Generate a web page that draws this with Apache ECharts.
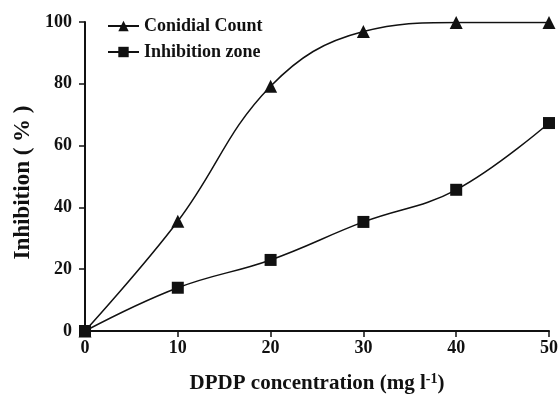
<!DOCTYPE html>
<html>
<head>
<meta charset="utf-8">
<script src="https://cdn.jsdelivr.net/npm/echarts@6/dist/echarts.min.js"></script>
<style>
  html, body { margin: 0; padding: 0; background: #fff; }
  #chart { width: 560px; height: 395px; }
</style>
</head>
<body>
<div id="chart"></div>
<script>
// DPDP concentration (mg l-1) and the two inhibition readings
const concentration = [0, 10, 20, 30, 40, 50];
const conidialCount = [0, 35.5, 79.2, 96.9, 99.8, 99.8];
const inhibitionZone = [0, 14, 23, 35.3, 45.7, 67.3];

const FONT = "'Liberation Serif', 'DejaVu Serif', serif";
const INK = "#111";

const chart = echarts.init(document.getElementById("chart"));

chart.setOption({
  animation: false,
  textStyle: { fontFamily: FONT },
  // fixed plot box; v6 would otherwise shrink it to fit the big labels
  grid: { left: 85, right: 11, top: 22, bottom: 64, containLabel: false, outerBoundsMode: "none" },
  legend: {
    orient: "vertical",
    left: 102,
    top: 12,
    itemWidth: 31,
    itemHeight: 13,
    itemGap: 8,
    textStyle: { fontFamily: FONT, fontWeight: "bold", fontSize: 18, color: INK },
    data: ["Conidial Count", "Inhibition zone"]
  },
  xAxis: {
    type: "value",
    min: 0,
    max: 50,
    interval: 10,
    name: "{a|DPDP concentration (mg l}{s|-1}{a|)}",
    nameLocation: "middle",
    nameGap: 41,
    nameTextStyle: {
      rich: {
        a: { fontFamily: FONT, fontWeight: "bold", fontSize: 21, color: INK },
        s: { fontFamily: FONT, fontWeight: "bold", fontSize: 14, color: INK, verticalAlign: "top", padding: [0, 0, 9, 0] }
      }
    },
    axisLine: { onZero: false, lineStyle: { color: INK, width: 2 } },
    axisTick: { show: true, length: 6, inside: false, lineStyle: { color: INK, width: 1.5 } },
    axisLabel: { fontFamily: FONT, fontWeight: "bold", fontSize: 18, color: INK, margin: 8 },
    splitLine: { show: false }
  },
  yAxis: {
    type: "value",
    min: 0,
    max: 100,
    interval: 20,
    name: "Inhibition ( % )",
    nameLocation: "middle",
    nameGap: 50,
    // right padding nudges the rotated title a little below the plot's centre
    nameTextStyle: { fontFamily: FONT, fontWeight: "bold", fontSize: 23, color: INK, padding: [0, 12, 0, 0] },
    axisLine: { show: true, onZero: false, lineStyle: { color: INK, width: 2 } },
    axisTick: { show: true, length: 6, inside: false, lineStyle: { color: INK, width: 1.5 } },
    axisLabel: { fontFamily: FONT, fontWeight: "bold", fontSize: 18, color: INK, margin: 13 },
    splitLine: { show: false }
  },
  series: [
    {
      name: "Conidial Count",
      type: "line",
      smooth: 0.4,
      symbol: "triangle",
      symbolSize: 13,
      itemStyle: { color: INK },
      lineStyle: { color: INK, width: 1.5 },
      data: concentration.map((x, i) => [x, conidialCount[i]])
    },
    {
      name: "Inhibition zone",
      type: "line",
      smooth: 0.4,
      symbol: "rect",
      symbolSize: 12,
      itemStyle: { color: INK },
      lineStyle: { color: INK, width: 1.5 },
      data: concentration.map((x, i) => [x, inhibitionZone[i]])
    }
  ]
});
</script>
</body>
</html>
